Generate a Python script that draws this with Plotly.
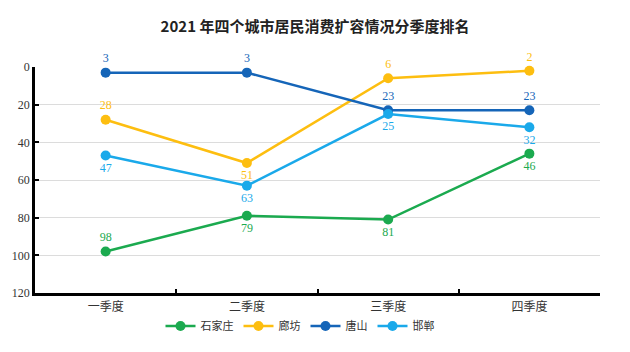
import plotly.graph_objects as go

categories = ["一季度", "二季度", "三季度", "四季度"]
series_names = ["石家庄", "廊坊", "唐山", "邯郸"]
shijiazhuang = [98, 79, 81, 46]
langfang = [28, 51, 6, 2]
tangshan = [3, 3, 23, 23]
handan = [47, 63, 25, 32]
y_ticks = [0, 20, 40, 60, 80, 100, 120]

values = [shijiazhuang, langfang, tangshan, handan]
colors = ["#1BAA4F", "#FDBE10", "#1565B8", "#1AA9EA"]
positions = [
    ["top center", "bottom center", "bottom center", "bottom center"],
    ["top center", "bottom center", "top center", "top center"],
    ["top center", "top center", "top center", "top center"],
    ["bottom center", "bottom center", "bottom center", "bottom center"],
]

font_family = "Liberation Serif, Noto Sans CJK SC, serif"

fig = go.Figure()
for name, vals, col, pos in zip(series_names, values, colors, positions):
    fig.add_trace(go.Scatter(
        x=categories, y=vals, name=name, mode="lines+markers+text",
        line=dict(color=col, width=2.5),
        marker=dict(color=col, size=10),
        text=[str(v) for v in vals], textposition=pos,
        textfont=dict(color=col, size=12, family=font_family),
        cliponaxis=False,
    ))

fig.update_layout(
    width=630, height=352,
    margin=dict(l=35, r=30, t=67, b=59, autoexpand=False),
    paper_bgcolor="white", plot_bgcolor="white",
    title=dict(text="<b>2021 年四个城市居民消费扩容情况分季度排名</b>",
               x=0.5, xanchor="center", y=1 - 27 / 352, yanchor="middle",
               font=dict(size=15, color="#222", family="Noto Sans CJK SC, sans-serif")),
    legend=dict(orientation="h", xref="container", x=300 / 630, xanchor="center",
                yref="container", y=1 - 326 / 352, yanchor="middle",
                font=dict(size=11, color="#333", family=font_family),
                itemwidth=30, tracegroupgap=0),
    showlegend=True,
)
fig.update_xaxes(
    type="category", range=[-0.5, 3.5],
    showline=True, linecolor="black", linewidth=2.5,
    ticks="inside", tickson="boundaries", ticklen=4, tickcolor="black", tickwidth=2,
    showgrid=False, ticklabelstandoff=1,
    tickfont=dict(size=12, color="#333", family=font_family),
)
fig.update_yaxes(
    range=[120, 0], tickvals=y_ticks,
    showline=True, linecolor="black", linewidth=2.5,
    ticks="inside", ticklen=4, tickcolor="black", tickwidth=2,
    showgrid=True, gridcolor="#DCDCDC", gridwidth=1,
    zeroline=False,
    tickfont=dict(size=12, color="#333", family=font_family),
)

fig.write_html("out.html")
